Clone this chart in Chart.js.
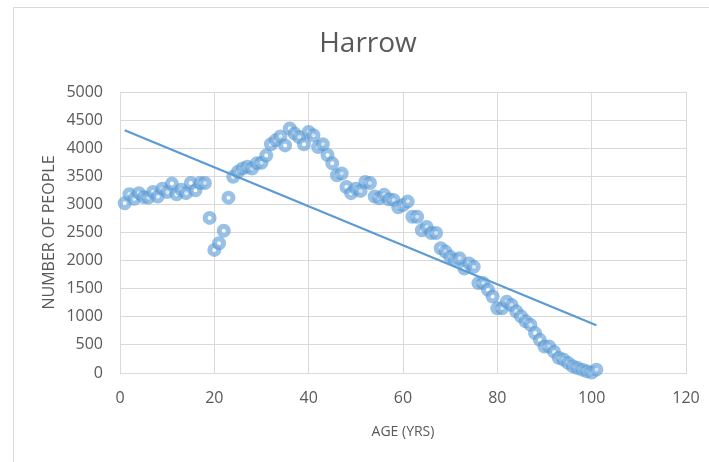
<!DOCTYPE html>
<html>
<head>
<meta charset="utf-8">
<script src="https://cdn.jsdelivr.net/npm/chart.js@4"></script>
<style>
  html, body { margin: 0; padding: 0; background: #ffffff; }
  #wrap { width: 709px; height: 462px; position: relative; }
</style>
</head>
<body>
<div id="wrap"><canvas id="c" width="709" height="462"></canvas></div>
<script>
const chartTitle = 'Harrow';
const ages = [1,2,3,4,5,6,7,8,9,10,11,12,13,14,15,16,17,18,19,20,21,22,23,24,25,26,27,28,29,30,31,32,33,34,35,36,37,38,39,40,41,42,43,44,45,46,47,48,49,50,51,52,53,54,55,56,57,58,59,60,61,62,63,64,65,66,67,68,69,70,71,72,73,74,75,76,77,78,79,80,81,82,83,84,85,86,87,88,89,90,91,92,93,94,95,96,97,98,99,100,101];
const people = [3020,3180,3100,3200,3130,3120,3220,3140,3280,3220,3370,3180,3260,3200,3380,3250,3380,3380,2760,2190,2310,2530,3120,3490,3580,3640,3670,3640,3730,3740,3870,4070,4140,4210,4050,4350,4260,4200,4070,4290,4230,4020,4070,3880,3730,3520,3550,3310,3200,3280,3240,3400,3380,3140,3110,3170,3090,3080,2950,2990,3050,2780,2780,2540,2600,2490,2490,2220,2160,2070,2010,2040,1860,1950,1890,1600,1600,1480,1360,1150,1150,1270,1210,1100,1010,920,860,710,590,470,470,380,270,240,180,120,90,60,30,10,60];
const trendAges = [1, 101];
const trendValues = [4320, 850];
const xTicks = [0, 20, 40, 60, 80, 100, 120];
const yTicks = [0, 500, 1000, 1500, 2000, 2500, 3000, 3500, 4000, 4500, 5000];

const scatterData = ages.map((a, i) => ({ x: a, y: people[i] }));
const trendData = trendAges.map((a, i) => ({ x: a, y: trendValues[i] }));

const frame = {
  id: 'frame',
  beforeDraw(chart) {
    const ctx = chart.ctx;
    ctx.save();
    ctx.fillStyle = '#ffffff';
    ctx.fillRect(0, 0, chart.width, chart.height);
    ctx.strokeStyle = '#d9d9d9';
    ctx.lineWidth = 1;
    ctx.strokeRect(13.5, 7.5, 900, 900);
    ctx.restore();
  },
  afterDraw(chart) {
    const ctx = chart.ctx;
    ctx.save();
    ctx.fillStyle = '#595959';
    ctx.font = 'normal 28px "Open Sans"';
    ctx.textAlign = 'center';
    ctx.textBaseline = 'middle';
    ctx.fillText(chartTitle, 368, 44);
    ctx.restore();
  }
};

new Chart(document.getElementById('c'), {
  type: 'scatter',
  data: {
    datasets: [
      {
        label: 'Number of people',
        data: scatterData,
        pointRadius: 4.5,
        pointHoverRadius: 4.5,
        pointBorderWidth: 5,
        borderColor: 'rgba(91,155,213,0.62)',
        backgroundColor: 'rgba(255,255,255,0.55)',
        clip: false,
        order: 2
      },
      {
        label: 'Trend',
        type: 'line',
        data: trendData,
        showLine: true,
        borderColor: '#5B9BD5',
        borderWidth: 2.2,
        pointRadius: 0,
        fill: false,
        clip: false,
        order: 1
      }
    ]
  },
  options: {
    responsive: false,
    animation: false,
    layout: { padding: { left: 0, right: 0, top: 92, bottom: 0 } },
    plugins: {
      legend: { display: false },
      tooltip: { enabled: false },
      title: { display: false }
    },
    scales: {
      x: {
        type: 'linear',
        min: 0,
        max: 120,
        afterBuildTicks(scale) { scale.ticks = xTicks.map(v => ({ value: v })); },
        afterFit(scale) { scale.height = 89; scale.paddingRight = 23; scale.paddingLeft = 0; },
        grid: { color: '#d9d9d9', drawTicks: false, lineWidth: 1 },
        border: { color: '#d9d9d9' },
        ticks: {
          color: '#595959',
          font: { family: 'Open Sans', size: 16 },
          padding: 16,
          maxRotation: 0,
          callback: v => String(v)
        },
        title: {
          display: true,
          text: 'AGE (YRS)',
          color: '#595959',
          font: { family: 'Open Sans', size: 14 },
          padding: { top: 0, bottom: 22 }
        }
      },
      y: {
        type: 'linear',
        min: 0,
        max: 5000,
        afterBuildTicks(scale) { scale.ticks = yTicks.map(v => ({ value: v })); },
        afterFit(scale) { scale.width = 120; },
        grid: { color: '#d9d9d9', drawTicks: false, lineWidth: 1 },
        border: { color: '#d9d9d9' },
        ticks: {
          color: '#595959',
          font: { family: 'Open Sans', size: 16 },
          padding: 17,
          callback: v => String(v)
        },
        title: {
          display: true,
          text: 'NUMBER OF PEOPLE',
          color: '#595959',
          font: { family: 'Open Sans', size: 16 },
          padding: { top: 40, bottom: 0 }
        }
      }
    }
  },
  plugins: [frame]
});
</script>
</body>
</html>
